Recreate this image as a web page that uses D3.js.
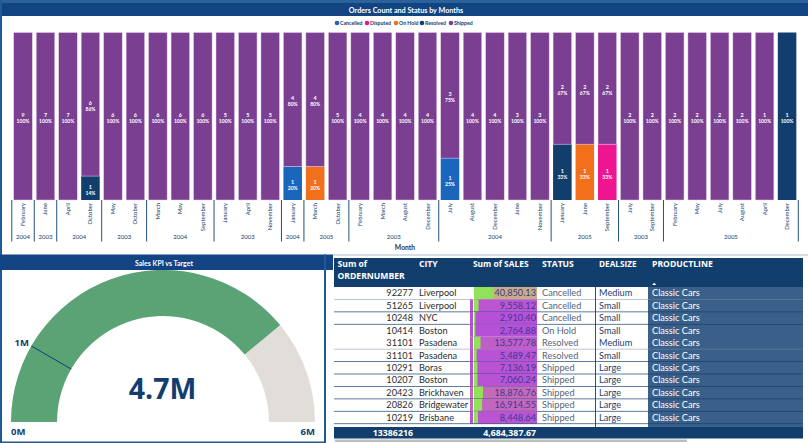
<!DOCTYPE html>
<html><head><meta charset="utf-8">
<script src="https://cdn.jsdelivr.net/npm/d3@7/dist/d3.min.js"></script>
<style>html,body{margin:0;padding:0;background:#fff;overflow:hidden}svg{display:block;font-family:"Open Sans",sans-serif}.l{font-family:Lato,sans-serif}</style>
</head><body><svg id="c" width="808" height="443"></svg>
<script>
const months=["February","June","April","October","May","October","March","May","September","January","April","November","January","March","October","February","March","August","December","July","August","December","June","November","January","June","September","July","September","February","May","July","August","April","December"];
const yearLabels=["2004","2003","2004","2003","2004","2003","2004","2005","2003","2004","2005","2003","2005"];
const yearSpans=[1,1,2,2,3,3,1,2,4,5,3,2,6];
const cancelled=[0,0,0,0,0,0,0,0,0,0,0,0,1,0,0,0,0,0,0,1,0,0,0,0,0,0,0,0,0,0,0,0,0,0,0];
const disputed =[0,0,0,0,0,0,0,0,0,0,0,0,0,0,0,0,0,0,0,0,0,0,0,0,0,0,1,0,0,0,0,0,0,0,0];
const onHold   =[0,0,0,0,0,0,0,0,0,0,0,0,0,1,0,0,0,0,0,0,0,0,0,0,0,1,0,0,0,0,0,0,0,0,0];
const resolved =[0,0,0,1,0,0,0,0,0,0,0,0,0,0,0,0,0,0,0,0,0,0,0,0,1,0,0,0,0,0,0,0,0,0,1];
const shipped  =[9,7,7,6,6,6,6,6,6,5,5,5,4,4,5,4,4,4,4,3,4,4,3,3,2,2,2,2,2,2,2,2,2,1,0];
const statusNames=["Cancelled","Disputed","On Hold","Resolved","Shipped"];
const statusColors=["#1a66bd","#ee1690","#f26f1c","#123e6e","#7b3f91"];

const orderNumbers=[92277,51265,10248,10414,31101,31101,10291,10207,20423,20826,10219];
const cities=["Liverpool","Liverpool","NYC","Boston","Pasadena","Pasadena","Boras","Boston","Brickhaven","Bridgewater","Brisbane"];
const sales=[40850.13,9558.12,2910.40,2764.88,13577.78,5489.47,7136.19,7060.24,18876.76,16914.55,8448.64];
const statuses=["Cancelled","Cancelled","Cancelled","On Hold","Resolved","Resolved","Shipped","Shipped","Shipped","Shipped","Shipped"];
const dealSizes=["Medium","Small","Small","Small","Medium","Small","Large","Large","Large","Large","Large"];
const productLines=["Classic Cars","Classic Cars","Classic Cars","Classic Cars","Classic Cars","Classic Cars","Classic Cars","Classic Cars","Classic Cars","Classic Cars","Classic Cars"];
const tableHeaders=["Sum of","ORDERNUMBER","CITY","Sum of SALES","STATUS","DEALSIZE","PRODUCTLINE"];
const totalOrders="13386216", totalSales="4,684,387.67";

const gaugeValue=4.68e6, gaugeTarget=1e6, gaugeMax=6e6;
const gaugeLabels=["0M","1M","6M","4.7M"];

const navy="#123e6e", hdr="#124484";
const svg=d3.select("#c");
const rect=(p,x,y,w,h,f)=>p.append("rect").attr("x",x).attr("y",y).attr("width",w).attr("height",h).attr("fill",f);
const text=(p,x,y,t,fs,f,fw,a)=>p.append("text").attr("x",x).attr("y",y).text(t).attr("font-size",fs).attr("fill",f).attr("font-weight",fw||400).attr("text-anchor",a||"start");
const ltext=(...args)=>text(...args).attr("class","l");

/* frames */
rect(svg,0,0,808,3,"#2a6299");
rect(svg,0,0,2,443,"#1d5a96");
rect(svg,2,3,806,13,hdr);
rect(svg,0,254.5,333,15.5,hdr);
rect(svg,333,254.5,475,1,"#a9bccd");
rect(svg,324,254.5,2,188,"#1d5a96");
rect(svg,2,441.5,324,1.5,"#1d5a96");

/* top chart */
ltext(svg,406,12.5,"Orders Count and Status by Months",7.2,"#fff",700,"middle");
const legendX=[337,367,396,422,451];
statusNames.forEach((s,i)=>{
  svg.append("circle").attr("cx",legendX[i]).attr("cy",23).attr("r",2.3).attr("fill",statusColors[i]);
  ltext(svg,legendX[i]+3,25,s,5.2,navy,700);
});
const idx=d3.range(months.length);
const x=d3.scaleBand().domain(idx).range([11.8,798.3]).paddingInner(0.175).paddingOuter(0.087);
const y=d3.scaleLinear().domain([0,1]).range([200,32.5]);
const table=idx.map(i=>({Cancelled:cancelled[i],Disputed:disputed[i],"On Hold":onHold[i],Resolved:resolved[i],Shipped:shipped[i]}));
const stacked=d3.stack().keys(statusNames).offset(d3.stackOffsetExpand)(table);
const gBars=svg.append("g");
stacked.forEach((ser,si)=>{
  ser.forEach((d,i)=>{
    const c=table[i][ser.key]; if(!c) return;
    const y1=y(d[1]),y0=y(d[0]),cx=x(i)+x.bandwidth()/2,tot=d3.sum(statusNames,k=>table[i][k]);
    gBars.append("rect").attr("x",x(i)).attr("y",y1).attr("width",x.bandwidth()).attr("height",y0-y1)
      .attr("fill",statusColors[si]).attr("stroke",si==4?"#e6cdee":"none").attr("stroke-width",0.5);
    const m=(y0+y1)/2;
    ltext(gBars,cx,m+0.6,c,5.4,"#fff",700,"middle");
    ltext(gBars,cx,m+6.6,d3.format(".0%")(c/tot),5,"#fff",700,"middle");
  });
});
const gAxis=svg.append("g");
idx.forEach(i=>{
  gAxis.append("text").attr("class","l").attr("transform",`translate(${x(i)+x.bandwidth()/2+2},203) rotate(-90)`)
    .text(months[i]).attr("font-size",5.9).attr("fill",navy).attr("text-anchor","end");
});
let pos=0;
const edge=k=>k<months.length?x(k)-x.step()*x.paddingInner()/2:x(k-1)+x.bandwidth()+x.step()*x.paddingInner()/2;
yearLabels.forEach((yl,i)=>{
  const a=edge(pos),b=edge(pos+yearSpans[i]);
  gAxis.append("line").attr("x1",a).attr("x2",a).attr("y1",200).attr("y2",241.5).attr("stroke","#23517f").attr("stroke-width",1);
  ltext(gAxis,(a+b)/2,239,yl,6,navy,400,"middle");
  pos+=yearSpans[i];
});
const last=edge(pos);
gAxis.append("line").attr("x1",last).attr("x2",last).attr("y1",200).attr("y2",241.5).attr("stroke","#23517f").attr("stroke-width",1);
ltext(svg,405,249.5,"Month",6.8,"#333",700,"middle");

/* gauge */
ltext(svg,164,265.5,"Sales KPI vs Target",7,"#fff",700,"middle");
const gx=163,gy=422,rO=152,rI=106;
const ang=d3.scaleLinear().domain([0,gaugeMax]).range([-Math.PI/2,Math.PI/2]);
const arc=d3.arc().innerRadius(rI).outerRadius(rO);
const gG=svg.append("g").attr("transform",`translate(${gx},${gy})`);
gG.append("path").attr("d",arc({startAngle:ang(0),endAngle:ang(gaugeMax)})).attr("fill","#e1ddd9");
gG.append("path").attr("d",arc({startAngle:ang(0),endAngle:ang(gaugeValue)})).attr("fill","#5aa375");
const ta=ang(gaugeTarget);
gG.append("line").attr("x1",rI*Math.sin(ta)).attr("y1",-rI*Math.cos(ta)).attr("x2",rO*Math.sin(ta)).attr("y2",-rO*Math.cos(ta)).attr("stroke",navy).attr("stroke-width",1);
text(svg,11,435,gaugeLabels[0],9.5,navy,700);
text(svg,14.5,345.5,gaugeLabels[1],9.5,navy,700);
text(svg,315,435,gaugeLabels[2],9.5,navy,700,"end");
text(svg,162.5,398.5,gaugeLabels[3],28.5,navy,700,"middle");

/* table */
rect(svg,334,258,469,29,navy);
rect(svg,648,287,155,140,"#3a6089");
const rowH=12.43, rowY=i=>287+i*rowH;
text(svg,337.5,267,tableHeaders[0],8.6,"#fff",700);
text(svg,337.5,279,tableHeaders[1],8.6,"#fff",700);
text(svg,419,267,tableHeaders[2],8.6,"#fff",700);
text(svg,473,267,tableHeaders[3],8.4,"#fff",700);
text(svg,542,267,tableHeaders[4],8.6,"#fff",700);
text(svg,599,267,tableHeaders[5],8.2,"#fff",700);
text(svg,652,267,tableHeaders[6],8.6,"#fff",700);
svg.append("path").attr("d","M652,285 l2.2,-2.2 l2.2,2.2 z").attr("fill","#fff");

const barW=d3.scaleLinear().domain([0,d3.max(sales)]).range([0,19.5]);
const cellCol=d3.scaleLinear().domain([2764,9558,18876,40850]).range(["#b650d9","#bb55d2","#c56ab9","#c9ac85"]);
sales.forEach((v,i)=>{
  const ry=rowY(i);
  rect(svg,i==0?474:470,ry,i==0?63:67,rowH,cellCol(v));
  rect(svg,473,ry,1,rowH,"#fff");
  rect(svg,474,ry,barW(v),rowH,"#93e05a");
  const ty=ry+9.4;
  ltext(svg,413,ty,orderNumbers[i],9.2,"#2c2c2c",400,"end");
  ltext(svg,419,ty,cities[i],9.2,"#2c2c2c");
  ltext(svg,536,ty,d3.format(",.2f")(v),9.2,"#3b3a8e",400,"end");
  ltext(svg,542,ty,statuses[i],9.2,"#54657a");
  ltext(svg,599,ty,dealSizes[i],9.2,"#1f3f6c");
  ltext(svg,652,ty,productLines[i],9.2,"#fff");
  if(i!=3) rect(svg,334,ry+rowH-0.4,469,0.8,i==4||i==0?"#6f8aa5":navy).attr("opacity",i==0||i==4?0.6:0.85);
});
rect(svg,595,287,0.9,140,navy);
rect(svg,334,427,469,11.5,navy);
text(svg,413,436,totalOrders,8.8,"#fff",700,"end");
text(svg,536,436,totalSales,8.8,"#fff",700,"end");
rect(svg,335,439.5,352,2.5,"#bdbdbd");
</script></body></html>
